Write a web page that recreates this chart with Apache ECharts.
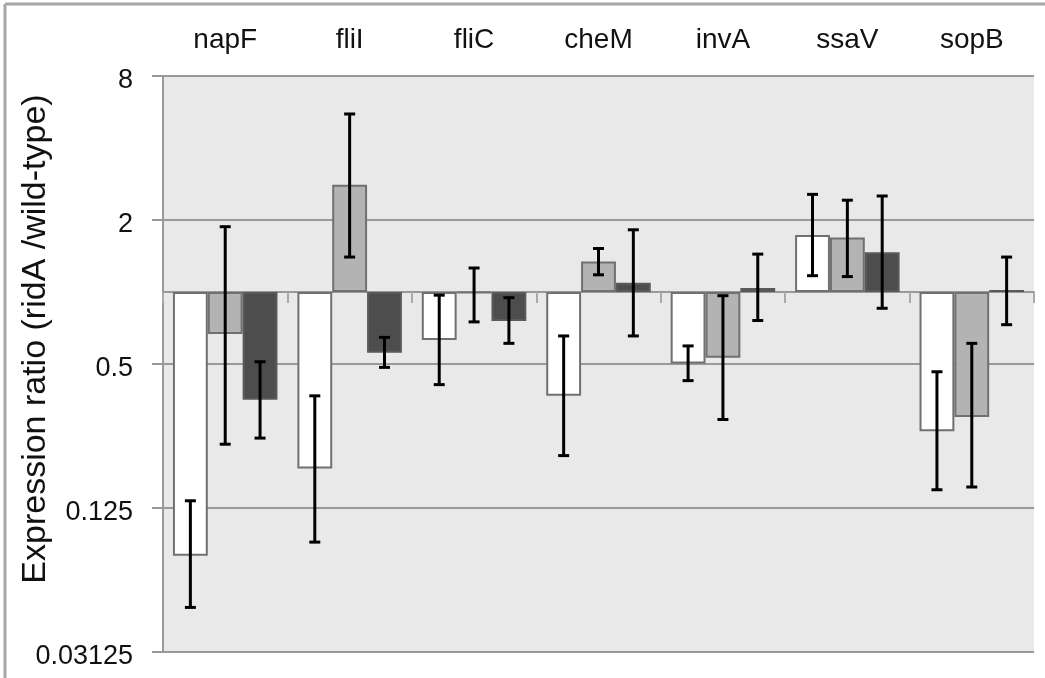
<!DOCTYPE html>
<html>
<head>
<meta charset="utf-8">
<script src="https://cdn.jsdelivr.net/npm/echarts@6/dist/echarts.min.js"></script>
<style>
  html, body { margin: 0; padding: 0; background: #fff; }
  #chart { width: 1045px; height: 678px; }
</style>
</head>
<body>
<div id="chart"></div>
<script>
// genes on the category axis
const genes = ['napF', 'fliI', 'fliC', 'cheM', 'invA', 'ssaV', 'sopB'];

// expression ratio (linear values, axis is log2)
const whiteRatio = [0.079, 0.183, 0.63, 0.368, 0.503, 1.73, 0.262];
const whiteLow = [0.048, 0.090, 0.41, 0.207, 0.426, 1.17, 0.149];
const whiteHigh = [0.134, 0.368, 0.97, 0.655, 0.595, 2.56, 0.464];

const greyRatio = [0.667, 2.81, 0.99, 1.34, 0.531, 1.69, 0.30];
const greyLow = [0.231, 1.40, 0.75, 1.18, 0.293, 1.16, 0.153];
const greyHigh = [1.875, 5.55, 1.26, 1.52, 0.965, 2.42, 0.61];

const darkRatio = [0.354, 0.557, 0.756, 1.094, 1.04, 1.465, 1.02];
const darkLow = [0.245, 0.484, 0.61, 0.655, 0.76, 0.855, 0.73];
const darkHigh = [0.511, 0.646, 0.947, 1.82, 1.44, 2.52, 1.40];

// tick labels of the log2 axis, bottom to top
const yTickLabels = ['0.03125', '0.125', '0.5', '2', '8'];

const font = '"Liberation Sans", Arial, sans-serif';
const barCategoryGap = 0.16;

const log2 = arr => arr.map(v => Math.log2(v));

const groups = [
  {name: 'white', values: whiteRatio, low: whiteLow, high: whiteHigh, fill: '#ffffff', border: '#707070'},
  {name: 'grey', values: greyRatio, low: greyLow, high: greyHigh, fill: '#b3b3b3', border: '#707070'},
  {name: 'dark', values: darkRatio, low: darkLow, high: darkHigh, fill: '#4d4d4d', border: '#5a5a5a'}
];

const errorData = [];
groups.forEach((g, gi) => {
  genes.forEach((gene, ci) => {
    errorData.push([ci, gi, Math.log2(g.low[ci]), Math.log2(g.high[ci])]);
  });
});

function renderErrorBar(params, api) {
  const cat = api.value(0);
  const group = api.value(1);
  const band = api.size([1, 0])[0];
  const barW = band * (1 - barCategoryGap) / groups.length;
  const cx = api.coord([cat, 0])[0] + (group - 1) * barW;
  const yLow = api.coord([cat, api.value(2)])[1];
  const yHigh = api.coord([cat, api.value(3)])[1];
  const half = 5.5;
  const style = {stroke: '#000', lineWidth: 3};
  return {
    type: 'group',
    children: [
      {type: 'line', shape: {x1: cx, y1: yHigh, x2: cx, y2: yLow}, style: style},
      {type: 'line', shape: {x1: cx - half, y1: yHigh, x2: cx + half, y2: yHigh}, style: style},
      {type: 'line', shape: {x1: cx - half, y1: yLow, x2: cx + half, y2: yLow}, style: style}
    ]
  };
}

const chart = echarts.init(document.getElementById('chart'), null, {renderer: 'canvas'});

const series = groups.map(g => ({
  type: 'bar',
  name: g.name,
  xAxisIndex: 1,
  yAxisIndex: 0,
  data: log2(g.values),
  barGap: '0%',
  barCategoryGap: (barCategoryGap * 100) + '%',
  itemStyle: {color: g.fill, borderColor: g.border, borderWidth: 2},
  silent: true
}));

series.push({
  type: 'custom',
  name: 'error',
  xAxisIndex: 1,
  yAxisIndex: 0,
  renderItem: renderErrorBar,
  encode: {x: 0, y: [2, 3]},
  data: errorData,
  z: 5,
  silent: true
});

const option = {
  animation: false,
  textStyle: {fontFamily: font},
  grid: {
    left: 163,
    right: 11,
    top: 76,
    bottom: 26,
    outerBoundsMode: 'none',
    containLabel: false,
    show: true,
    backgroundColor: '#e9e9e9',
    borderWidth: 0
  },
  graphic: [
    {type: 'line', shape: {x1: 5, y1: 4, x2: 1045, y2: 4}, style: {stroke: '#a6a6a6', lineWidth: 3}},
    {type: 'line', shape: {x1: 5, y1: 4, x2: 5, y2: 678}, style: {stroke: '#a6a6a6', lineWidth: 3}}
  ],
  xAxis: [
    {
      type: 'category',
      position: 'top',
      data: genes,
      axisLine: {show: false, onZero: false},
      axisTick: {show: false},
      axisLabel: {fontSize: 28, color: '#111', margin: 22, fontFamily: font}
    },
    {
      type: 'category',
      position: 'bottom',
      data: genes,
      axisLine: {show: true, onZero: true, onZeroAxisIndex: 0, lineStyle: {color: '#999', width: 2}},
      axisTick: {show: true, inside: false, length: 11, lineStyle: {color: '#aaa', width: 2}},
      axisLabel: {show: false}
    }
  ],
  yAxis: [
    {
      type: 'value',
      position: 'left',
      min: -5,
      max: 3,
      show: false,
      splitLine: {show: false}
    },
    {
      type: 'value',
      position: 'left',
      min: 0,
      max: 8,
      interval: 2,
      name: 'Expression ratio (ridA /wild-type)',
      nameLocation: 'middle',
      nameGap: 110,
      nameMoveOverlap: false,
      nameTextStyle: {fontSize: 34, color: '#111', fontFamily: font, padding: [0, 0, 0, 50]},
      axisLine: {show: true, lineStyle: {color: '#999', width: 2}},
      axisTick: {show: true, length: 11, lineStyle: {color: '#999', width: 2}},
      axisLabel: {
        fontSize: 27,
        color: '#111',
        margin: 30,
        fontFamily: font,
        formatter: v => '{v|' + yTickLabels[Math.round(v / 2)] + '}',
        rich: {v: {fontSize: 27, color: '#111', fontFamily: font, padding: [9, 0, 0, 0]}}
      },
      splitLine: {show: true, lineStyle: {color: '#999', width: 2}}
    }
  ],
  series: series
};

chart.setOption(option);
</script>
</body>
</html>
